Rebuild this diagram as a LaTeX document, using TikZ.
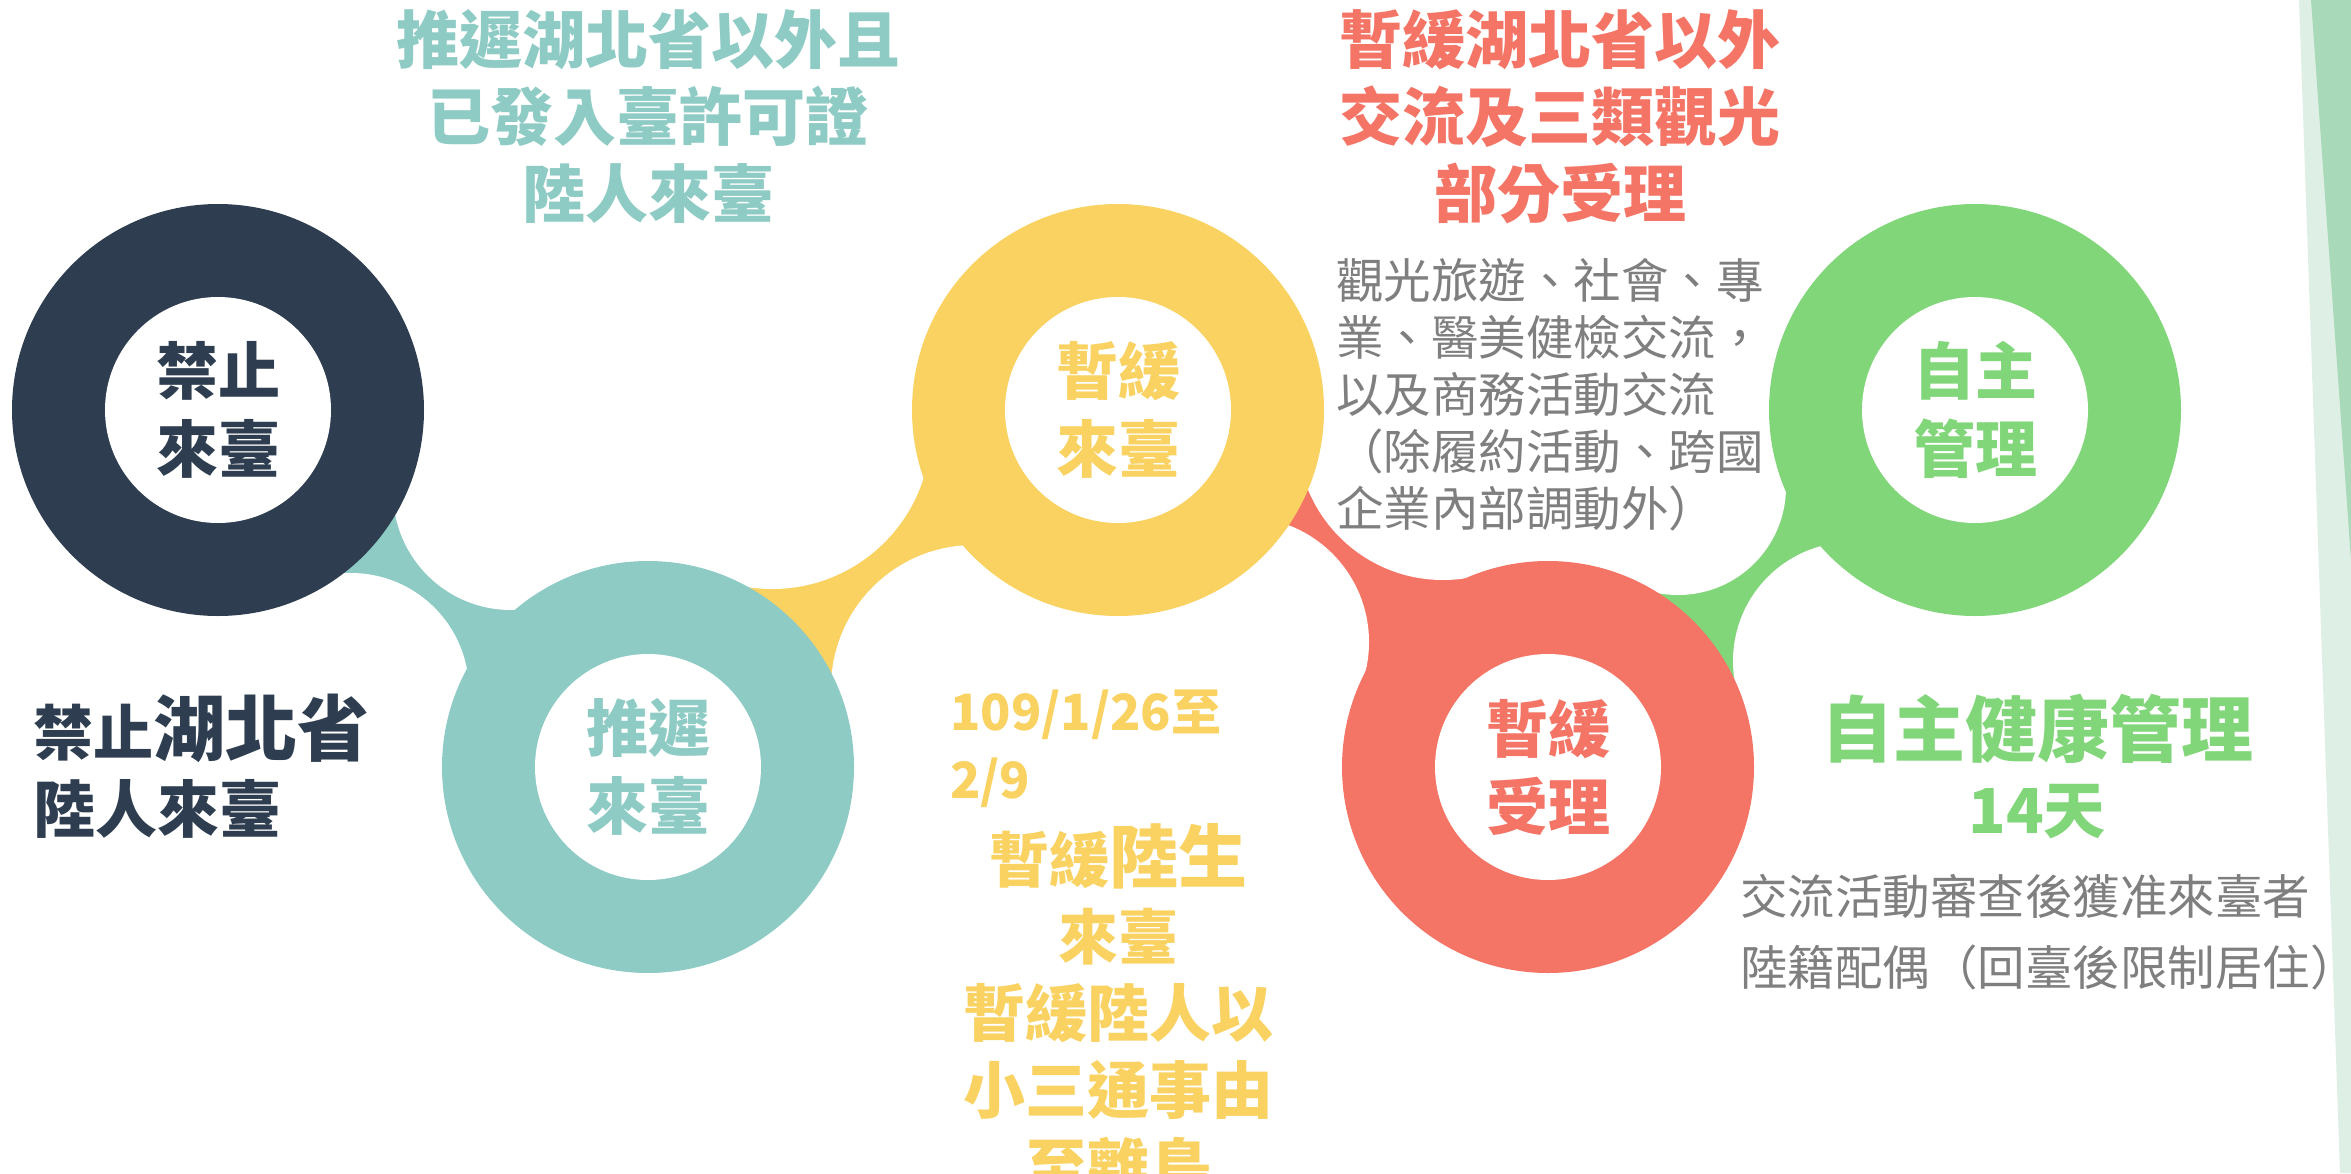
\documentclass[tikz,border=0pt]{standalone}
\usepackage{fontspec}
\setmainfont{Noto Sans CJK TC}
\definecolor{navy}{HTML}{2E3E50}
\definecolor{tealc}{HTML}{8DCBC4}
\definecolor{yell}{HTML}{F9D262}
\definecolor{salm}{HTML}{F47566}
\definecolor{gren}{HTML}{82D67A}
\definecolor{greyt}{HTML}{7F7F7F}
\definecolor{stripl}{HTML}{DEF0E5}
\definecolor{stripd}{HTML}{A8DAB9}
\begin{document}
\begin{tikzpicture}[x=1pt,y=-1pt,
  outer/.style={circle,inner sep=0pt,minimum size=412pt},
  inner/.style={circle,fill=white,inner sep=0pt,minimum size=226pt,align=center,
    font=\bfseries\fontsize{62pt}{78pt}\selectfont},
  title/.style={inner sep=0pt,align=center,font=\bfseries\fontsize{63pt}{77pt}\selectfont},
  note/.style={inner sep=0pt,align=left,text=greyt},
  bold62/.style={inner sep=0pt,font=\bfseries\fontsize{62pt}{77pt}\selectfont},
  cutter/.style={fill=white}]
\useasboundingbox (0,0) rectangle (2351,1173);
\clip (0,0) rectangle (2351,1173);
\fill[white] (0,0) rectangle (2351,1173);
% right decoration strip
\fill[stripl] (2299,0) -- (2351,0) -- (2351,1173) -- (2340,1173) -- cycle;
\fill[stripd] (2311,0) -- (2351,0) -- (2351,560) -- cycle;
% ring centres
\coordinate (c1) at (218,410);
\coordinate (c2) at (648,767);
\coordinate (c3) at (1118,410);
\coordinate (c4) at (1548,767);
\coordinate (c5) at (1975,410);
% cutter centres of the connectors
\coordinate (u1) at (511,492);  \coordinate (l1) at (351,691);
\coordinate (u2) at (772,430);  \coordinate (l2) at (974,688);
\coordinate (u3) at (1443,434); \coordinate (l3) at (1244,642);
\coordinate (u4) at (1678,487); \coordinate (l4) at (1852,661);
% connectors
\fill[tealc] (c1) -- (u1) -- (c2) -- (l1) -- cycle;
\fill[yell] (c2) -- (u2) -- (c3) -- (l2) -- cycle;
\fill[salm] (c3) -- (u3) -- (c4) -- (l3) -- cycle;
\fill[gren] (c4) -- (u4) -- (c5) -- (l4) -- cycle;
\fill[cutter] (u1) circle (118) (l1) circle (118);
\fill[cutter] (u2) circle (159) (l2) circle (143);
\fill[cutter] (u3) circle (146) (l3) circle (125);
\fill[cutter] (u4) circle (108) (l4) circle (119);
% rings
\node[outer,fill=navy] (o1) at (c1) {};
\node[inner,text=navy] (i1) at (c1) {禁止\\來臺};
\node[outer,fill=tealc] (o2) at (c2) {};
\node[inner,text=tealc] (i2) at (c2) {推遲\\來臺};
\node[outer,fill=yell] (o3) at (c3) {};
\node[inner,text=yell] (i3) at (c3) {暫緩\\來臺};
\node[outer,fill=salm] (o4) at (c4) {};
\node[inner,text=salm] (i4) at (c4) {暫緩\\受理};
\node[outer,fill=gren] (o5) at (c5) {};
\node[inner,text=gren] (i5) at (c5) {自主\\管理};
% titles
\node[title,text=tealc] (tA) at (648,117) {推遲湖北省以外且\\已發入臺許可證\\陸人來臺};
\node[title,text=salm] (tB) at (1560,117) {暫緩湖北省以外\\交流及三類觀光\\部分受理};
% grey notes
\node[note,anchor=west,font=\fontsize{47.5pt}{57pt}\selectfont] (nA) at (1336,394.5)
  {觀光旅遊、社會、專\\業、醫美健檢交流，\\以及商務活動交流\\（除履約活動、跨國\\企業內部調動外）};
\node[note,anchor=west,font=\fontsize{47.5pt}{71pt}\selectfont] (nB) at (1740,932.5)
  {交流活動審查後獲准來臺者\\陸籍配偶（回臺後限制居住）};
% navy note
\node[bold62,align=left,anchor=west,text=navy] (nL) at (33,766.5)
  {{\fontsize{60pt}{77pt}\selectfont 禁止}{\fontsize{72pt}{77pt}\selectfont 湖北省}\\陸人來臺};
% green note
\node[bold62,align=center,text=gren] (gT) at (2037,766.5)
  {{\fontsize{72pt}{77pt}\selectfont 自主健康管理}\\14天};
% yellow notes
\node[inner sep=0pt,align=left,anchor=west,text=yell,font=\bfseries\fontsize{50pt}{68pt}\selectfont] (yD) at (950,749)
  {109/1/26至\\2/9};
\node[bold62,align=center,text=yell] (yL) at (1118,1010)
  {{\fontsize{60pt}{77pt}\selectfont 暫緩}{\fontsize{69pt}{77pt}\selectfont 陸生}\\{\fontsize{60pt}{77pt}\selectfont 來臺}\\暫緩陸人以\\小三通事由\\至離島};
\end{tikzpicture}
\end{document}
